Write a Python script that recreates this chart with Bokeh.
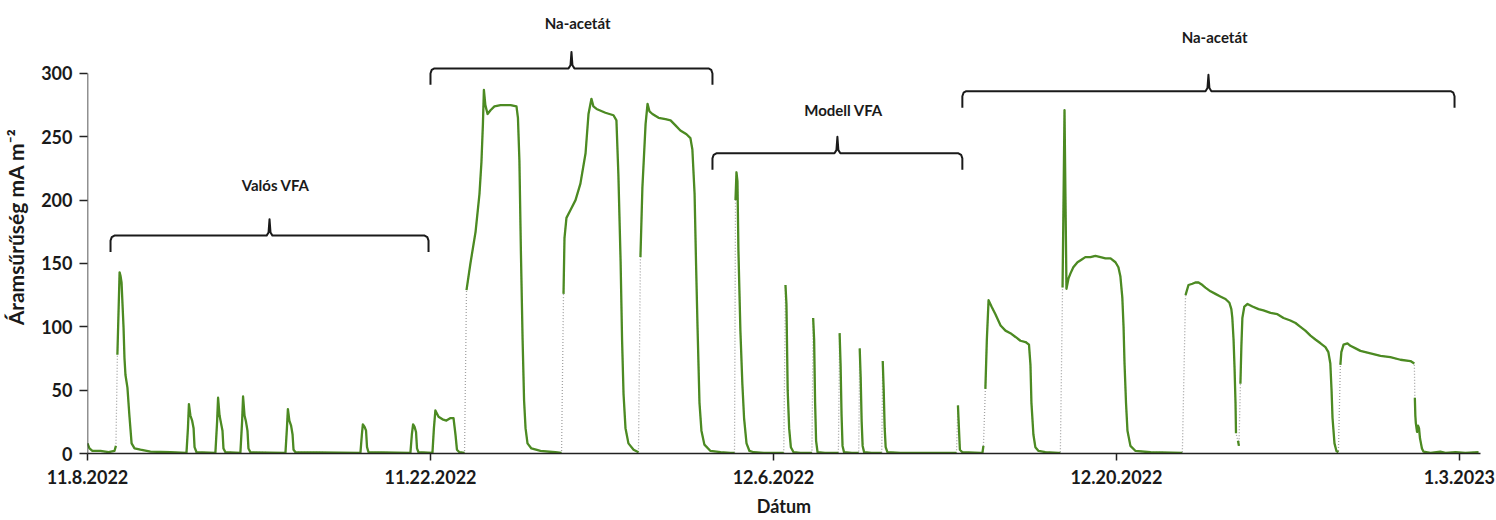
import numpy as np
import pandas as pd
from bokeh.plotting import figure
from bokeh.models import Range1d, FixedTicker, DatetimeTickFormatter
from bokeh.embed import file_html
from bokeh.resources import INLINE
from bokeh.core.properties import value

NAN = float("nan")

# ---------------- data ----------------
start_date = "2022-11-08"
tick_dates = ["2022-11-08", "2022-11-22", "2022-12-06", "2022-12-20", "2023-01-03"]
y_ticks = [0, 50, 100, 150, 200, 250, 300]

# (day since start, current density mA m-2); (NAN, NAN) = missing data
valos = [(0.00, 8), (0.08, 4), (0.20, 2), (0.53, 2), (0.86, 1), (1.10, 2), (1.16, 6), (NAN, NAN),
         (1.22, 78), (1.31, 143), (1.35, 140), (1.39, 135), (1.47, 100), (1.51, 75), (1.55, 62),
         (1.63, 52), (1.71, 30), (1.80, 8), (1.92, 4), (2.16, 3), (2.57, 1.5), (3.39, 1),
         (4.04, 0.5), (4.10, 20), (4.14, 39), (4.20, 30), (4.27, 26), (4.33, 20), (4.37, 5), (4.45, 1),
         (5.22, 0.5), (5.29, 25), (5.33, 44), (5.39, 30), (5.45, 24), (5.51, 18), (5.55, 4), (5.63, 1),
         (6.24, 0.5), (6.31, 25), (6.35, 45), (6.41, 30), (6.47, 25), (6.53, 18), (6.57, 4), (6.65, 1),
         (8.08, 0.5), (8.14, 20), (8.18, 35), (8.24, 26), (8.31, 22), (8.37, 15), (8.41, 3), (8.49, 1),
         (11.14, 0.5), (11.20, 15), (11.24, 23), (11.31, 21), (11.37, 18), (11.41, 5), (11.47, 1),
         (13.18, 0.5), (13.24, 15), (13.29, 23), (13.35, 21), (13.41, 17), (13.45, 4), (13.51, 1)]

na_acetat_1 = [(14.08, 0.5), (14.14, 20), (14.20, 34), (14.33, 29), (14.49, 27), (14.65, 26), (14.82, 28),
               (14.94, 28), (15.02, 15), (15.08, 3), (15.18, 1), (15.39, 0.5), (NAN, NAN),
               (15.47, 129), (15.63, 150), (15.84, 175), (16.00, 205), (16.08, 230), (16.14, 260),
               (16.18, 287), (16.24, 275), (16.33, 268), (16.45, 271), (16.61, 274), (16.86, 275),
               (17.27, 275), (17.51, 274), (17.57, 265), (17.63, 231), (17.69, 160), (17.76, 90),
               (17.82, 42), (17.88, 20), (17.96, 8), (18.12, 4), (18.49, 2), (19.10, 1), (19.35, 0.5), (NAN, NAN),
               (19.43, 126), (19.47, 170), (19.55, 186), (19.71, 192), (19.92, 200), (20.12, 213),
               (20.33, 237), (20.45, 268), (20.57, 280), (20.65, 274), (20.78, 272), (21.14, 269),
               (21.47, 267), (21.59, 263), (21.67, 220), (21.76, 152), (21.82, 90), (21.88, 47),
               (21.96, 20), (22.08, 8), (22.29, 3), (22.49, 1), (NAN, NAN),
               (22.57, 155), (22.65, 210), (22.78, 260), (22.86, 276), (22.94, 270), (23.06, 268),
               (23.31, 265), (23.59, 264), (23.80, 263), (24.00, 259), (24.20, 255), (24.45, 252),
               (24.61, 249), (24.69, 240), (24.78, 205), (24.84, 150), (24.90, 100), (24.98, 40),
               (25.06, 18), (25.18, 7), (25.43, 2)]

modell = [(25.84, 1), (26.24, 0.5), (26.41, 0.5), (NAN, NAN),
          (26.45, 200), (26.49, 222), (26.53, 215), (26.57, 160), (26.65, 97), (26.73, 55), (26.80, 28),
          (26.90, 8), (27.02, 2), (27.20, 1), (27.60, 0.5), (28.42, 0.5), (NAN, NAN),
          (28.49, 133), (28.53, 118), (28.58, 50), (28.64, 20), (28.71, 5), (28.82, 1), (29.10, 0.5), (29.57, 0.5), (NAN, NAN),
          (29.62, 107), (29.66, 90), (29.70, 40), (29.74, 10), (29.80, 1), (30.10, 0.5), (30.65, 0.5), (NAN, NAN),
          (30.70, 95), (30.74, 70), (30.78, 30), (30.82, 6), (30.88, 1), (31.20, 0.5), (31.48, 0.5), (NAN, NAN),
          (31.52, 83), (31.56, 60), (31.60, 25), (31.64, 6), (31.70, 1), (32.00, 0.5), (32.42, 0.5), (NAN, NAN),
          (32.46, 73), (32.50, 50), (32.54, 20), (32.58, 5), (32.65, 1), (33.18, 0.5), (35.43, 0.5), (35.47, 0.5)]

na_acetat_2 = [(NAN, NAN), (35.53, 38), (35.57, 20), (35.61, 3), (35.71, 1), (36.45, 0.5), (36.53, 0.5), (36.57, 6), (NAN, NAN),
               (36.65, 51), (36.71, 90), (36.78, 121), (36.90, 116), (37.06, 110), (37.27, 101), (37.47, 97),
               (37.67, 95), (37.88, 92), (38.08, 89), (38.29, 88), (38.43, 86), (38.49, 70), (38.53, 40),
               (38.61, 15), (38.69, 5), (38.82, 2), (39.10, 1), (39.63, 0.5), (39.71, 0.5), (NAN, NAN),
               (39.80, 131), (39.84, 200), (39.88, 271), (39.92, 200), (39.96, 130), (40.04, 138), (40.12, 142),
               (40.24, 147), (40.41, 151), (40.57, 153), (40.73, 155), (40.94, 155), (41.14, 156), (41.35, 155),
               (41.55, 154), (41.76, 154), (41.96, 151), (42.08, 147), (42.16, 140), (42.24, 123), (42.29, 100),
               (42.33, 71), (42.39, 40), (42.45, 18), (42.57, 6), (42.78, 2), (43.39, 1), (44.69, 0.5), (NAN, NAN),
               (44.82, 125), (44.94, 133), (45.10, 134), (45.22, 135), (45.35, 135), (45.51, 133), (45.63, 131),
               (45.84, 128), (46.04, 126), (46.24, 124), (46.45, 122), (46.61, 119), (46.69, 114), (46.73, 107),
               (46.78, 90), (46.82, 68), (46.86, 40), (46.88, 16), (NAN, NAN),
               (46.96, 10), (47.00, 6), (NAN, NAN),
               (47.06, 55), (47.10, 85), (47.14, 107), (47.22, 116), (47.35, 118), (47.55, 116), (47.80, 114),
               (48.00, 113), (48.29, 111), (48.57, 110), (48.82, 107), (49.10, 105), (49.31, 103), (49.51, 100),
               (49.71, 97), (49.92, 93), (50.12, 90), (50.33, 87), (50.53, 84), (50.65, 80), (50.73, 71),
               (50.78, 50), (50.82, 28), (50.90, 8), (50.98, 2), (51.06, 1), (NAN, NAN),
               (51.14, 70), (51.18, 80), (51.27, 86), (51.43, 87), (51.55, 85), (51.76, 83), (51.96, 81),
               (52.37, 79), (52.78, 77), (53.18, 76), (53.59, 74), (54.00, 73), (54.16, 71), (NAN, NAN),
               (54.18, 44), (54.20, 30), (54.22, 24), (54.27, 17), (54.31, 22), (54.35, 20), (54.39, 12),
               (54.43, 8), (54.47, 4), (54.53, 1.5), (54.82, 0.5), (55.22, 1.5), (55.43, 0.5), (55.84, 1),
               (56.24, 0.5), (56.78, 1)]

bracket_labels = ["Valós VFA", "Na-acetát", "Modell VFA", "Na-acetát"]
bracket_from = [0.94, 14.00, 25.51, 35.71]
bracket_to = [13.92, 25.51, 35.71, 55.80]
bracket_level = [172, 304, 237, 286]
label_level = [212, 340, 271, 329]

x_label = "Dátum"
y_label = "Áramsűrűség mA m⁻²"

# ---------------- build ----------------
DAY_MS = 86400000.0
t0 = pd.Timestamp(start_date).value / 1e6

series = valos + na_acetat_1 + modell + na_acetat_2
day = np.array([d for d, _ in series], dtype=float)
cur = np.array([v for _, v in series], dtype=float)
xs = t0 + day * DAY_MS
ok = ~np.isnan(cur)

x_end = t0 + 56.86 * DAY_MS
p = figure(width=1496, height=520, x_axis_type="datetime",
           x_range=Range1d(t0, x_end), y_range=Range1d(0, 357.6),
           output_backend="svg", toolbar_location=None,
           min_border_left=87, min_border_right=16, min_border_top=0, min_border_bottom=67)
p.outline_line_color = None
p.background_fill_color = "white"
p.border_fill_color = "white"
p.xgrid.visible = False
p.ygrid.visible = False

# gaps in the record: thin dotted grey connectors
p.line(xs[ok], cur[ok], line_color="#a3a3a3", line_width=1.3, line_dash="1 2")
# measured record
p.line(xs, cur, line_color="#4c8a22", line_width=2.3, line_join="round")

# y axis line only from 0 to the top tick
p.segment(x0=[t0], y0=[0], x1=[t0], y1=[max(y_ticks)], line_color="#222222", line_width=1.5)

# curly brackets with labels
bxs, bys = [], []
for a, b, lvl in zip(bracket_from, bracket_to, bracket_level):
    c = (a + b) / 2
    dx = [a, a, a + 0.05, a + 0.16, c - 0.12, c - 0.04, c, c + 0.04, c + 0.12, b - 0.16, b - 0.05, b, b]
    dy = [lvl - 13, lvl - 4, lvl - 1.2, lvl, lvl, lvl + 2.5, lvl + 13, lvl + 2.5, lvl, lvl, lvl - 1.2, lvl - 4, lvl - 13]
    bxs.append([t0 + v * DAY_MS for v in dx])
    bys.append(dy)
p.multi_line(bxs, bys, line_color="#1a1a1a", line_width=2, line_join="round")

centers = [t0 + ((a + b) / 2 + 0.25) * DAY_MS for a, b in zip(bracket_from, bracket_to)]
p.text(x=centers, y=label_level, text=bracket_labels, text_font=value("Lato"),
       text_font_style="bold", text_font_size="15px", text_align="center",
       text_baseline="middle", text_color="#1a1a1a")

# axes
tick_ms = [pd.Timestamp(d).value / 1e6 for d in tick_dates]
p.xaxis.ticker = FixedTicker(ticks=tick_ms)
fmt = "%-m.%-d.%Y"
p.xaxis.formatter = DatetimeTickFormatter(microseconds=fmt, milliseconds=fmt, seconds=fmt, minsec=fmt,
                                          minutes=fmt, hourmin=fmt, hours=fmt, days=fmt,
                                          months=fmt, years=fmt)
p.yaxis.ticker = FixedTicker(ticks=y_ticks)

for ax in (p.xaxis[0], p.yaxis[0]):
    ax.major_label_text_font = "Lato"
    ax.major_label_text_font_style = "bold"
    ax.major_label_text_font_size = "18px"
    ax.major_label_text_color = "#1a1a1a"
    ax.axis_label_text_font = "Lato"
    ax.axis_label_text_font_style = "bold"
    ax.axis_label_text_font_size = "18px"
    ax.axis_label_text_color = "#1a1a1a"
    ax.major_tick_in = 0
    ax.minor_tick_line_color = None
    ax.major_tick_line_color = "#222222"
    ax.major_tick_line_width = 1.5

p.xaxis.axis_label = x_label
p.xaxis.axis_line_color = "#222222"
p.xaxis.axis_line_width = 1.5
p.xaxis.major_tick_out = 7
p.xaxis.major_label_standoff = 9
p.xaxis.axis_label_standoff = 8

p.yaxis.axis_label = y_label
p.yaxis.axis_label_text_font_size = "21px"
p.yaxis.axis_line_color = None
p.yaxis.major_tick_out = 8
p.yaxis.major_label_standoff = 7
p.yaxis.axis_label_standoff = 10

open("out.html", "w").write(file_html(p, INLINE))
